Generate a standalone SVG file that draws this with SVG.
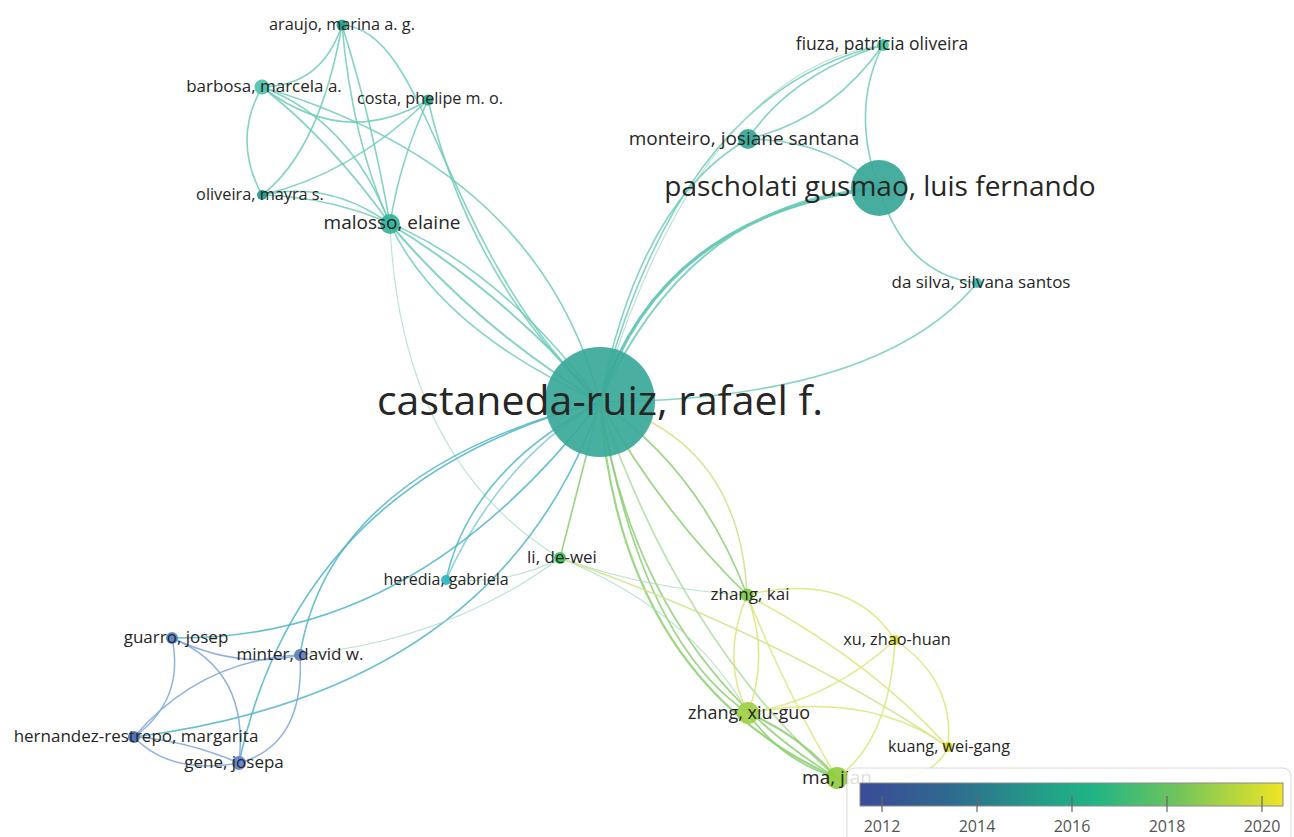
<svg xmlns="http://www.w3.org/2000/svg" width="1294" height="837" viewBox="0 0 1294 837">
<defs>
<linearGradient id="viridis" x1="0" y1="0" x2="1" y2="0">
<stop offset="0" stop-color="#3b4a98"/>
<stop offset="0.22" stop-color="#2e6b8e"/>
<stop offset="0.45" stop-color="#23a287"/>
<stop offset="0.55" stop-color="#1fb486"/>
<stop offset="0.75" stop-color="#70c45c"/>
<stop offset="1" stop-color="#f0e524"/>
</linearGradient>
<style>
.e{fill:none;stroke-linecap:round}
.t{stroke:#6fcbb9;stroke-width:1.6;stroke-opacity:.85}
.tk{stroke:#5cc3b1;stroke-width:3.2;stroke-opacity:.9}
.c{stroke:#4db5c6;stroke-width:1.6;stroke-opacity:.85}
.b{stroke:#86a9dd;stroke-width:1.5;stroke-opacity:.9}
.g{stroke:#8ccf72;stroke-width:1.7;stroke-opacity:.85}
.y{stroke:#dde77c;stroke-width:1.5;stroke-opacity:.9}
.f{stroke:#a8dcc0;stroke-width:1.1;stroke-opacity:.8}
.n circle{fill-opacity:.92}
.n text{font-family:"Open Sans","Liberation Sans",sans-serif;fill:#262626;text-anchor:middle}
.lg text{font-family:"Open Sans","Liberation Sans",sans-serif;fill:#555;font-size:16px;text-anchor:middle}
</style>
</defs>
<rect width="1294" height="837" fill="#ffffff"/>
<g id="edges">
<!-- top-left cluster -->
<path class="e t" d="M342,25 Q322,86 262,87"/>
<path class="e t" d="M342,25 Q320,150 262,195"/>
<path class="e t" d="M342,25 Q352,140 390,224"/>
<path class="e t" d="M342,25 Q372,120 390,224"/>
<path class="e t" d="M342,25 C430,30 440,250 600,402"/>
<path class="e t" d="M262,87 Q232,140 262,195"/>
<path class="e t" d="M262,87 Q345,150 428,100"/>
<path class="e t" d="M262,87 Q330,140 390,224"/>
<path class="e t" d="M262,87 Q350,120 390,224"/>
<path class="e t" d="M262,87 Q540,170 600,402"/>
<path class="e t" d="M428,100 Q350,175 262,195"/>
<path class="e t" d="M428,100 Q400,160 390,224"/>
<path class="e t" d="M428,100 Q470,280 600,402"/>
<path class="e t" d="M262,195 Q330,180 390,224"/>
<path class="e t" d="M262,195 Q450,200 600,402"/>
<path class="e t" d="M390,224 Q440,330 600,402"/>
<path class="e t" d="M390,224 Q500,290 600,402" style="stroke-width:2"/>
<path class="e t" d="M390,224 Q480,330 600,402" style="stroke-width:2"/>
<path class="e f" d="M390,224 Q400,460 560,558"/>
<!-- top-right cluster -->
<path class="e t" d="M883,45 Q790,75 748,139"/>
<path class="e t" d="M883,45 Q830,120 748,139"/>
<path class="e t" d="M883,45 Q850,110 879,188"/>
<path class="e t" d="M883,45 Q680,90 600,402"/>
<path class="e f" d="M883,45 Q700,70 600,402"/>
<path class="e t" d="M748,139 Q640,200 600,402"/>
<path class="e t" d="M748,139 Q830,140 879,188"/>
<path class="e tk" d="M879,188 Q660,215 600,402"/>
<path class="e t" d="M879,188 Q690,200 600,402" style="stroke-width:2"/>
<path class="e t" d="M879,188 Q905,275 977,283"/>
<path class="e t" d="M977,283 Q880,400 600,402"/>
<!-- castaneda to lower-left -->
<path class="e c" d="M172,638 C330,640 470,570 600,402"/>
<path class="e c" d="M134,737 Q500,690 600,402"/>
<path class="e c" d="M239,763 Q300,480 600,402"/>
<path class="e c" d="M300,655 Q330,470 600,402"/>
<path class="e c" d="M446,580 Q470,470 600,402"/>
<path class="e c" d="M446,580 Q500,460 600,402" style="stroke-opacity:.6"/>
<!-- bottom-left cluster -->
<path class="e b" d="M172,638 Q240,670 300,655"/>
<path class="e b" d="M172,638 Q185,700 134,737"/>
<path class="e b" d="M172,638 Q250,670 239,763"/>
<path class="e b" d="M300,655 Q200,660 134,737"/>
<path class="e b" d="M300,655 Q305,745 239,763"/>
<path class="e b" d="M134,737 Q170,775 239,763"/>
<path class="e b" d="M134,737 Q185,740 239,763"/>
<path class="e f" d="M300,655 Q450,640 560,558"/>
<path class="e f" d="M446,580 Q510,585 560,558"/>
<!-- castaneda to lower-right -->
<path class="e g" d="M600,402 Q700,470 747,595"/>
<path class="e g" d="M600,402 Q660,510 747,595"/>
<path class="e y" d="M600,402 Q740,440 747,595" style="stroke:#cfe38a"/>
<path class="e g" d="M600,402 Q640,640 748,713"/>
<path class="e g" d="M600,402 Q620,680 837,778" style="stroke-width:2.2"/>
<path class="e g" d="M600,402 Q640,660 837,778"/>
<path class="e g" d="M600,402 Q680,640 837,778" style="stroke-opacity:.6"/>
<path class="e f" d="M560,558 Q650,590 747,595"/>
<path class="e f" d="M560,558 Q690,610 748,713"/>
<path class="e y" d="M560,558 Q790,640 948,747" style="stroke:#d2e48e"/>
<path class="e g" d="M560,558 Q580,480 600,402"/>
<!-- bottom-right cluster -->
<path class="e y" d="M747,595 Q850,570 895,640"/>
<path class="e y" d="M747,595 Q720,660 748,713"/>
<path class="e y" d="M747,595 Q770,655 748,713"/>
<path class="e y" d="M747,595 Q790,700 837,778"/>
<path class="e y" d="M747,595 Q870,660 948,747"/>
<path class="e y" d="M895,640 Q830,700 748,713"/>
<path class="e y" d="M895,640 Q890,740 837,778"/>
<path class="e y" d="M895,640 Q955,680 948,747"/>
<path class="e y" d="M748,713 Q870,690 948,747"/>
<path class="e g" d="M748,713 Q800,735 837,778" style="stroke-width:2.2"/>
<path class="e g" d="M748,713 Q780,760 837,778"/>
<path class="e y" d="M837,778 Q930,790 948,747"/>
</g>
<g id="node-castaneda" class="n"><circle cx="600" cy="402" r="55" fill="#3aa898"/><text x="600" y="415" font-size="41">castaneda-ruiz, rafael f.</text></g>
<g id="node-pascholati" class="n"><circle cx="879" cy="188" r="28" fill="#37a797"/><text x="880" y="196" font-size="28">pascholati gusmao, luis fernando</text></g>
<g id="node-malosso" class="n"><circle cx="390" cy="224" r="10" fill="#33b398"/><text x="392" y="229" font-size="19">malosso, elaine</text></g>
<g id="node-araujo" class="n"><circle cx="342" cy="25" r="5.5" fill="#1f9c8a"/><text x="342" y="30" font-size="16.3">araujo, marina a. g.</text></g>
<g id="node-barbosa" class="n"><circle cx="262" cy="87" r="7.5" fill="#4dc1aa"/><text x="264" y="92" font-size="17">barbosa, marcela a.</text></g>
<g id="node-costa" class="n"><circle cx="428" cy="100" r="5.5" fill="#2aa88c"/><text x="430" y="104" font-size="16.2">costa, phelipe m. o.</text></g>
<g id="node-oliveira" class="n"><circle cx="262" cy="195" r="5" fill="#1f9a8a"/><text x="260" y="200" font-size="16.3">oliveira, mayra s.</text></g>
<g id="node-fiuza" class="n"><circle cx="883" cy="45" r="6" fill="#45c49a"/><text x="882" y="50" font-size="17.5">fiuza, patricia oliveira</text></g>
<g id="node-monteiro" class="n"><circle cx="748" cy="139" r="10" fill="#34a595"/><text x="744" y="145" font-size="19">monteiro, josiane santana</text></g>
<g id="node-dasilva" class="n"><circle cx="977" cy="283" r="5" fill="#3ab5ac"/><text x="981" y="288" font-size="17">da silva, silvana santos</text></g>
<g id="node-li" class="n"><circle cx="560" cy="558" r="6" fill="#3dbf5a"/><text x="562" y="563" font-size="17">li, de-wei</text></g>
<g id="node-heredia" class="n"><circle cx="446" cy="580" r="5" fill="#2bb4c2"/><text x="446" y="585" font-size="16">heredia, gabriela</text></g>
<g id="node-guarro" class="n"><circle cx="172" cy="638" r="6" fill="#5a82c8"/><text x="176" y="643" font-size="17">guarro, josep</text></g>
<g id="node-minter" class="n"><circle cx="300" cy="655" r="6" fill="#5c7fc0"/><text x="300" y="660" font-size="17">minter, david w.</text></g>
<g id="node-hernandez" class="n"><circle cx="134" cy="737" r="6" fill="#4a6fb5"/><text x="136" y="742" font-size="17">hernandez-restrepo, margarita</text></g>
<g id="node-gene" class="n"><circle cx="239" cy="763" r="7" fill="#5e80c8"/><text x="234" y="768" font-size="17">gene, josepa</text></g>
<g id="node-zhangkai" class="n"><circle cx="747" cy="595" r="6.5" fill="#7ec845"/><text x="750" y="600" font-size="17">zhang, kai</text></g>
<g id="node-xu" class="n"><circle cx="895" cy="640" r="5" fill="#dede28"/><text x="897" y="645" font-size="16.3">xu, zhao-huan</text></g>
<g id="node-zhangxiuguo" class="n"><circle cx="748" cy="713" r="11" fill="#9fd043"/><text x="749" y="719" font-size="18">zhang, xiu-guo</text></g>
<g id="node-kuang" class="n"><circle cx="948" cy="747" r="5" fill="#d9d820"/><text x="949" y="752" font-size="16.2">kuang, wei-gang</text></g>
<g id="node-majian" class="n"><circle cx="837" cy="778" r="11" fill="#8fcd3e"/><text x="837" y="784" font-size="19">ma, jian</text></g>
<g id="legend" class="lg">
<rect x="847" y="768" width="444" height="80" rx="8" fill="#ffffff" fill-opacity="0.85" stroke="#d8d8d8"/>
<rect x="860" y="783" width="423" height="23" fill="url(#viridis)" stroke="#8a8a8a" stroke-width="1"/>
<g stroke="#666" stroke-width="1.2">
<line x1="882" y1="796" x2="882" y2="812"/>
<line x1="977" y1="796" x2="977" y2="812"/>
<line x1="1072" y1="796" x2="1072" y2="812"/>
<line x1="1167" y1="796" x2="1167" y2="812"/>
<line x1="1262" y1="796" x2="1262" y2="812"/>
</g>
<text x="882" y="832">2012</text>
<text x="977" y="832">2014</text>
<text x="1072" y="832">2016</text>
<text x="1167" y="832">2018</text>
<text x="1262" y="832">2020</text>
</g>
</svg>
